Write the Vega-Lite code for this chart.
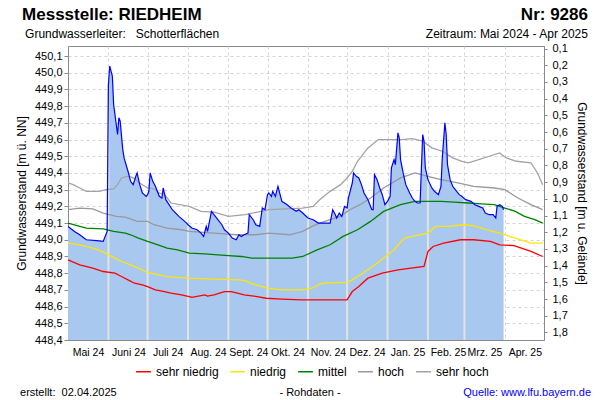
{
  "$schema": "https://vega.github.io/schema/vega-lite/v6.json",
  "width": 476,
  "height": 294,
  "autosize": {"type": "none"},
  "padding": {"left": 68, "top": 46, "right": 56, "bottom": 60},
  "background": "white",
  "config": {
    "font": "Liberation Sans",
    "view": {"stroke": "#8a8a8a", "strokeWidth": 1},
    "axis": {"labelFont": "Liberation Sans", "titleFont": "Liberation Sans", "labelColor": "#000000", "titleColor": "#000000", "domainColor": "#8a8a8a", "tickColor": "#8a8a8a", "labelOverlap": false},
    "legend": {"labelFont": "Liberation Sans"}
  },
  "datasets": {
    "obs": [
      {"date":"2024-05-01","value":449.08},{"date":"2024-05-06","value":449.05},{"date":"2024-05-10","value":449.03},{"date":"2024-05-15","value":449.0},{"date":"2024-05-23","value":448.995},{"date":"2024-05-28","value":448.99},{"date":"2024-05-30","value":449.03},{"date":"2024-05-31","value":449.05},
      {"date":"2024-06-01","value":449.93},{"date":"2024-06-02","value":450.04},{"date":"2024-06-04","value":449.98},{"date":"2024-06-05","value":449.81},{"date":"2024-06-06","value":449.75},{"date":"2024-06-08","value":449.63},{"date":"2024-06-09","value":449.73},{"date":"2024-06-10","value":449.71},{"date":"2024-06-12","value":449.54},{"date":"2024-06-13","value":449.49},{"date":"2024-06-16","value":449.41},{"date":"2024-06-18","value":449.35},{"date":"2024-06-20","value":449.33},{"date":"2024-06-22","value":449.38},{"date":"2024-06-23","value":449.4},{"date":"2024-06-25","value":449.33},{"date":"2024-06-27","value":449.28},{"date":"2024-06-30","value":449.26},
      {"date":"2024-07-01","value":449.27},{"date":"2024-07-02","value":449.29},{"date":"2024-07-03","value":449.4},{"date":"2024-07-05","value":449.35},{"date":"2024-07-07","value":449.32},{"date":"2024-07-10","value":449.26},{"date":"2024-07-12","value":449.25},{"date":"2024-07-13","value":449.31},{"date":"2024-07-15","value":449.24},{"date":"2024-07-20","value":449.18},{"date":"2024-07-25","value":449.14},{"date":"2024-07-31","value":449.1},
      {"date":"2024-08-01","value":449.09},{"date":"2024-08-04","value":449.07},{"date":"2024-08-08","value":449.06},{"date":"2024-08-11","value":449.04},{"date":"2024-08-13","value":449.02},{"date":"2024-08-15","value":449.08},{"date":"2024-08-16","value":449.05},{"date":"2024-08-19","value":449.17},{"date":"2024-08-23","value":449.13},{"date":"2024-08-27","value":449.09},{"date":"2024-08-29","value":449.06},
      {"date":"2024-09-01","value":449.04},{"date":"2024-09-02","value":449.03},{"date":"2024-09-04","value":449.01},{"date":"2024-09-07","value":449.0},{"date":"2024-09-09","value":449.03},{"date":"2024-09-11","value":449.02},{"date":"2024-09-13","value":449.03},{"date":"2024-09-16","value":449.04},{"date":"2024-09-17","value":449.15},{"date":"2024-09-20","value":449.12},{"date":"2024-09-22","value":449.09},{"date":"2024-09-25","value":449.08},{"date":"2024-09-27","value":449.19},{"date":"2024-09-29","value":449.18},
      {"date":"2024-10-01","value":449.27},{"date":"2024-10-02","value":449.28},{"date":"2024-10-04","value":449.26},{"date":"2024-10-05","value":449.29},{"date":"2024-10-07","value":449.26},{"date":"2024-10-09","value":449.32},{"date":"2024-10-10","value":449.29},{"date":"2024-10-12","value":449.23},{"date":"2024-10-16","value":449.21},{"date":"2024-10-19","value":449.19},{"date":"2024-10-23","value":449.17},{"date":"2024-10-25","value":449.18},{"date":"2024-10-28","value":449.16},
      {"date":"2024-11-01","value":449.13},{"date":"2024-11-05","value":449.12},{"date":"2024-11-09","value":449.1},{"date":"2024-11-13","value":449.1},{"date":"2024-11-18","value":449.1},{"date":"2024-11-20","value":449.18},{"date":"2024-11-22","value":449.15},{"date":"2024-11-23","value":449.13},{"date":"2024-11-25","value":449.16},{"date":"2024-11-27","value":449.14},{"date":"2024-11-29","value":449.2},
      {"date":"2024-12-01","value":449.19},{"date":"2024-12-02","value":449.25},{"date":"2024-12-04","value":449.31},{"date":"2024-12-05","value":449.34},{"date":"2024-12-06","value":449.4},{"date":"2024-12-08","value":449.38},{"date":"2024-12-10","value":449.37},{"date":"2024-12-12","value":449.33},{"date":"2024-12-14","value":449.28},{"date":"2024-12-17","value":449.24},{"date":"2024-12-20","value":449.18},{"date":"2024-12-21","value":449.18},{"date":"2024-12-22","value":449.39},{"date":"2024-12-24","value":449.36},{"date":"2024-12-26","value":449.31},{"date":"2024-12-28","value":449.27},{"date":"2024-12-30","value":449.21},
      {"date":"2025-01-01","value":449.23},{"date":"2025-01-03","value":449.26},{"date":"2025-01-04","value":449.43},{"date":"2025-01-06","value":449.48},{"date":"2025-01-07","value":449.45},{"date":"2025-01-09","value":449.64},{"date":"2025-01-10","value":449.61},{"date":"2025-01-11","value":449.48},{"date":"2025-01-13","value":449.4},{"date":"2025-01-15","value":449.33},{"date":"2025-01-18","value":449.28},{"date":"2025-01-20","value":449.25},{"date":"2025-01-22","value":449.23},{"date":"2025-01-24","value":449.22},{"date":"2025-01-26","value":449.22},{"date":"2025-01-27","value":449.43},{"date":"2025-01-28","value":449.63},{"date":"2025-01-29","value":449.59},{"date":"2025-01-30","value":449.43},
      {"date":"2025-02-01","value":449.36},{"date":"2025-02-04","value":449.31},{"date":"2025-02-06","value":449.29},{"date":"2025-02-09","value":449.27},{"date":"2025-02-11","value":449.32},{"date":"2025-02-12","value":449.49},{"date":"2025-02-14","value":449.7},{"date":"2025-02-15","value":449.63},{"date":"2025-02-16","value":449.45},{"date":"2025-02-18","value":449.36},{"date":"2025-02-20","value":449.32},{"date":"2025-02-22","value":449.3},{"date":"2025-02-25","value":449.27},{"date":"2025-02-27","value":449.26},
      {"date":"2025-03-01","value":449.245},{"date":"2025-03-02","value":449.24},{"date":"2025-03-06","value":449.23},{"date":"2025-03-09","value":449.21},{"date":"2025-03-12","value":449.2},{"date":"2025-03-15","value":449.19},{"date":"2025-03-17","value":449.16},{"date":"2025-03-20","value":449.15},{"date":"2025-03-23","value":449.15},{"date":"2025-03-25","value":449.13},{"date":"2025-03-26","value":449.2},{"date":"2025-03-28","value":449.21},{"date":"2025-03-30","value":449.2},{"date":"2025-03-31","value":449.18}
    ],
    "ref": [
      {"date":"2024-05-01","series":"sehr niedrig","value":448.88},{"date":"2024-05-10","series":"sehr niedrig","value":448.85},{"date":"2024-05-20","series":"sehr niedrig","value":448.83},{"date":"2024-05-28","series":"sehr niedrig","value":448.81},{"date":"2024-06-06","series":"sehr niedrig","value":448.8},{"date":"2024-06-11","series":"sehr niedrig","value":448.78},{"date":"2024-06-16","series":"sehr niedrig","value":448.76},{"date":"2024-06-21","series":"sehr niedrig","value":448.74},{"date":"2024-06-27","series":"sehr niedrig","value":448.73},{"date":"2024-07-01","series":"sehr niedrig","value":448.72},{"date":"2024-07-07","series":"sehr niedrig","value":448.7},{"date":"2024-07-14","series":"sehr niedrig","value":448.69},{"date":"2024-07-19","series":"sehr niedrig","value":448.68},{"date":"2024-07-27","series":"sehr niedrig","value":448.67},{"date":"2024-08-02","series":"sehr niedrig","value":448.66},{"date":"2024-08-04","series":"sehr niedrig","value":448.655},{"date":"2024-08-14","series":"sehr niedrig","value":448.67},{"date":"2024-08-16","series":"sehr niedrig","value":448.663},{"date":"2024-08-21","series":"sehr niedrig","value":448.67},{"date":"2024-08-29","series":"sehr niedrig","value":448.69},{"date":"2024-09-03","series":"sehr niedrig","value":448.69},{"date":"2024-09-08","series":"sehr niedrig","value":448.68},{"date":"2024-09-13","series":"sehr niedrig","value":448.67},{"date":"2024-09-23","series":"sehr niedrig","value":448.66},{"date":"2024-09-30","series":"sehr niedrig","value":448.65},{"date":"2024-10-12","series":"sehr niedrig","value":448.645},{"date":"2024-10-27","series":"sehr niedrig","value":448.64},{"date":"2024-11-12","series":"sehr niedrig","value":448.64},{"date":"2024-12-01","series":"sehr niedrig","value":448.64},{"date":"2024-12-05","series":"sehr niedrig","value":448.69},{"date":"2024-12-10","series":"sehr niedrig","value":448.72},{"date":"2024-12-17","series":"sehr niedrig","value":448.77},{"date":"2024-12-28","series":"sehr niedrig","value":448.8},{"date":"2025-01-09","series":"sehr niedrig","value":448.82},{"date":"2025-01-29","series":"sehr niedrig","value":448.84},{"date":"2025-02-01","series":"sehr niedrig","value":448.93},{"date":"2025-02-05","series":"sehr niedrig","value":448.96},{"date":"2025-02-13","series":"sehr niedrig","value":448.98},{"date":"2025-02-26","series":"sehr niedrig","value":449.0},{"date":"2025-03-08","series":"sehr niedrig","value":449.0},{"date":"2025-03-21","series":"sehr niedrig","value":448.99},{"date":"2025-03-28","series":"sehr niedrig","value":448.97},{"date":"2025-04-08","series":"sehr niedrig","value":448.965},{"date":"2025-04-21","series":"sehr niedrig","value":448.93},{"date":"2025-04-30","series":"sehr niedrig","value":448.9},
      {"date":"2024-05-01","series":"niedrig","value":448.98},{"date":"2024-05-10","series":"niedrig","value":448.97},{"date":"2024-05-20","series":"niedrig","value":448.95},{"date":"2024-05-27","series":"niedrig","value":448.93},{"date":"2024-06-01","series":"niedrig","value":448.91},{"date":"2024-06-06","series":"niedrig","value":448.89},{"date":"2024-06-11","series":"niedrig","value":448.87},{"date":"2024-06-18","series":"niedrig","value":448.85},{"date":"2024-06-24","series":"niedrig","value":448.83},{"date":"2024-06-29","series":"niedrig","value":448.81},{"date":"2024-07-03","series":"niedrig","value":448.8},{"date":"2024-07-10","series":"niedrig","value":448.79},{"date":"2024-07-16","series":"niedrig","value":448.78},{"date":"2024-07-24","series":"niedrig","value":448.775},{"date":"2024-08-01","series":"niedrig","value":448.77},{"date":"2024-08-21","series":"niedrig","value":448.765},{"date":"2024-09-09","series":"niedrig","value":448.76},{"date":"2024-09-14","series":"niedrig","value":448.755},{"date":"2024-09-18","series":"niedrig","value":448.74},{"date":"2024-09-22","series":"niedrig","value":448.73},{"date":"2024-09-27","series":"niedrig","value":448.72},{"date":"2024-10-01","series":"niedrig","value":448.71},{"date":"2024-10-12","series":"niedrig","value":448.7},{"date":"2024-10-28","series":"niedrig","value":448.7},{"date":"2024-11-04","series":"niedrig","value":448.71},{"date":"2024-11-12","series":"niedrig","value":448.74},{"date":"2024-12-01","series":"niedrig","value":448.745},{"date":"2024-12-05","series":"niedrig","value":448.76},{"date":"2024-12-13","series":"niedrig","value":448.8},{"date":"2024-12-24","series":"niedrig","value":448.86},{"date":"2025-01-06","series":"niedrig","value":448.94},{"date":"2025-01-14","series":"niedrig","value":449.01},{"date":"2025-01-20","series":"niedrig","value":449.02},{"date":"2025-02-01","series":"niedrig","value":449.04},{"date":"2025-02-07","series":"niedrig","value":449.08},{"date":"2025-02-17","series":"niedrig","value":449.08},{"date":"2025-02-28","series":"niedrig","value":449.09},{"date":"2025-03-08","series":"niedrig","value":449.085},{"date":"2025-03-18","series":"niedrig","value":449.06},{"date":"2025-03-28","series":"niedrig","value":449.04},{"date":"2025-04-05","series":"niedrig","value":449.02},{"date":"2025-04-13","series":"niedrig","value":449.0},{"date":"2025-04-21","series":"niedrig","value":448.98},{"date":"2025-04-30","series":"niedrig","value":448.98},
      {"date":"2024-05-01","series":"mittel","value":449.1},{"date":"2024-05-15","series":"mittel","value":449.07},{"date":"2024-05-28","series":"mittel","value":449.065},{"date":"2024-06-05","series":"mittel","value":449.05},{"date":"2024-06-14","series":"mittel","value":449.04},{"date":"2024-06-18","series":"mittel","value":449.03},{"date":"2024-06-24","series":"mittel","value":449.01},{"date":"2024-07-01","series":"mittel","value":448.99},{"date":"2024-07-09","series":"mittel","value":448.97},{"date":"2024-07-16","series":"mittel","value":448.95},{"date":"2024-07-24","series":"mittel","value":448.94},{"date":"2024-08-02","series":"mittel","value":448.92},{"date":"2024-08-14","series":"mittel","value":448.915},{"date":"2024-08-24","series":"mittel","value":448.91},{"date":"2024-09-01","series":"mittel","value":448.905},{"date":"2024-09-11","series":"mittel","value":448.9},{"date":"2024-09-19","series":"mittel","value":448.89},{"date":"2024-10-20","series":"mittel","value":448.89},{"date":"2024-10-28","series":"mittel","value":448.9},{"date":"2024-11-08","series":"mittel","value":448.94},{"date":"2024-11-18","series":"mittel","value":448.97},{"date":"2024-11-28","series":"mittel","value":449.02},{"date":"2024-12-09","series":"mittel","value":449.06},{"date":"2024-12-19","series":"mittel","value":449.11},{"date":"2024-12-29","series":"mittel","value":449.17},{"date":"2025-01-11","series":"mittel","value":449.21},{"date":"2025-01-22","series":"mittel","value":449.23},{"date":"2025-02-11","series":"mittel","value":449.23},{"date":"2025-02-21","series":"mittel","value":449.225},{"date":"2025-03-04","series":"mittel","value":449.22},{"date":"2025-03-14","series":"mittel","value":449.215},{"date":"2025-03-24","series":"mittel","value":449.21},{"date":"2025-04-01","series":"mittel","value":449.19},{"date":"2025-04-09","series":"mittel","value":449.17},{"date":"2025-04-16","series":"mittel","value":449.14},{"date":"2025-04-24","series":"mittel","value":449.12},{"date":"2025-04-30","series":"mittel","value":449.1},
      {"date":"2024-05-01","series":"hoch","value":449.18},{"date":"2024-05-10","series":"hoch","value":449.19},{"date":"2024-05-20","series":"hoch","value":449.185},{"date":"2024-05-28","series":"hoch","value":449.16},{"date":"2024-06-07","series":"hoch","value":449.14},{"date":"2024-06-14","series":"hoch","value":449.135},{"date":"2024-06-23","series":"hoch","value":449.11},{"date":"2024-07-01","series":"hoch","value":449.11},{"date":"2024-07-06","series":"hoch","value":449.09},{"date":"2024-07-16","series":"hoch","value":449.07},{"date":"2024-07-27","series":"hoch","value":449.06},{"date":"2024-08-02","series":"hoch","value":449.05},{"date":"2024-08-21","series":"hoch","value":449.04},{"date":"2024-09-07","series":"hoch","value":449.03},{"date":"2024-09-22","series":"hoch","value":449.03},{"date":"2024-10-02","series":"hoch","value":449.04},{"date":"2024-10-18","series":"hoch","value":449.03},{"date":"2024-10-28","series":"hoch","value":449.05},{"date":"2024-11-04","series":"hoch","value":449.08},{"date":"2024-11-10","series":"hoch","value":449.1},{"date":"2024-11-18","series":"hoch","value":449.12},{"date":"2024-11-26","series":"hoch","value":449.14},{"date":"2024-12-03","series":"hoch","value":449.18},{"date":"2024-12-11","series":"hoch","value":449.21},{"date":"2024-12-19","series":"hoch","value":449.25},{"date":"2024-12-29","series":"hoch","value":449.31},{"date":"2025-01-11","series":"hoch","value":449.37},{"date":"2025-01-22","series":"hoch","value":449.4},{"date":"2025-02-01","series":"hoch","value":449.38},{"date":"2025-02-11","series":"hoch","value":449.36},{"date":"2025-02-24","series":"hoch","value":449.34},{"date":"2025-03-08","series":"hoch","value":449.32},{"date":"2025-03-24","series":"hoch","value":449.31},{"date":"2025-04-01","series":"hoch","value":449.3},{"date":"2025-04-11","series":"hoch","value":449.25},{"date":"2025-04-21","series":"hoch","value":449.21},{"date":"2025-04-30","series":"hoch","value":449.18},
      {"date":"2024-05-01","series":"sehr hoch","value":449.34},{"date":"2024-05-05","series":"sehr hoch","value":449.33},{"date":"2024-05-10","series":"sehr hoch","value":449.31},{"date":"2024-05-15","series":"sehr hoch","value":449.29},{"date":"2024-05-25","series":"sehr hoch","value":449.29},{"date":"2024-05-30","series":"sehr hoch","value":449.3},{"date":"2024-06-05","series":"sehr hoch","value":449.305},{"date":"2024-06-08","series":"sehr hoch","value":449.33},{"date":"2024-06-11","series":"sehr hoch","value":449.37},{"date":"2024-06-15","series":"sehr hoch","value":449.38},{"date":"2024-06-19","series":"sehr hoch","value":449.375},{"date":"2024-06-22","series":"sehr hoch","value":449.36},{"date":"2024-06-25","series":"sehr hoch","value":449.34},{"date":"2024-07-01","series":"sehr hoch","value":449.31},{"date":"2024-07-06","series":"sehr hoch","value":449.305},{"date":"2024-07-10","series":"sehr hoch","value":449.28},{"date":"2024-07-14","series":"sehr hoch","value":449.27},{"date":"2024-07-19","series":"sehr hoch","value":449.22},{"date":"2024-08-02","series":"sehr hoch","value":449.2},{"date":"2024-08-11","series":"sehr hoch","value":449.17},{"date":"2024-08-21","series":"sehr hoch","value":449.165},{"date":"2024-09-01","series":"sehr hoch","value":449.14},{"date":"2024-09-14","series":"sehr hoch","value":449.15},{"date":"2024-10-02","series":"sehr hoch","value":449.18},{"date":"2024-10-15","series":"sehr hoch","value":449.185},{"date":"2024-10-28","series":"sehr hoch","value":449.19},{"date":"2024-11-05","series":"sehr hoch","value":449.2},{"date":"2024-11-10","series":"sehr hoch","value":449.24},{"date":"2024-11-18","series":"sehr hoch","value":449.29},{"date":"2024-11-26","series":"sehr hoch","value":449.33},{"date":"2024-12-01","series":"sehr hoch","value":449.37},{"date":"2024-12-05","series":"sehr hoch","value":449.41},{"date":"2024-12-09","series":"sehr hoch","value":449.47},{"date":"2024-12-17","series":"sehr hoch","value":449.55},{"date":"2024-12-25","series":"sehr hoch","value":449.6},{"date":"2025-01-12","series":"sehr hoch","value":449.6},{"date":"2025-01-20","series":"sehr hoch","value":449.605},{"date":"2025-01-28","series":"sehr hoch","value":449.59},{"date":"2025-02-04","series":"sehr hoch","value":449.55},{"date":"2025-02-12","series":"sehr hoch","value":449.53},{"date":"2025-02-20","series":"sehr hoch","value":449.49},{"date":"2025-02-27","series":"sehr hoch","value":449.47},{"date":"2025-03-04","series":"sehr hoch","value":449.46},{"date":"2025-03-12","series":"sehr hoch","value":449.48},{"date":"2025-03-20","series":"sehr hoch","value":449.5},{"date":"2025-03-28","series":"sehr hoch","value":449.52},{"date":"2025-04-02","series":"sehr hoch","value":449.49},{"date":"2025-04-10","series":"sehr hoch","value":449.47},{"date":"2025-04-21","series":"sehr hoch","value":449.46},{"date":"2025-04-26","series":"sehr hoch","value":449.4},{"date":"2025-04-30","series":"sehr hoch","value":449.33}
    ]
  },
  "layer": [
    {
      "data": {"values": [{"level": 449.0}]},
      "mark": {"type": "rule", "opacity": 0},
      "encoding": {
        "y": {
          "field": "level", "type": "quantitative",
          "scale": {"domain": [448.4, 450.16], "nice": false, "zero": false},
          "axis": {
            "orient": "left",
            "values": [448.4, 448.5, 448.6, 448.7, 448.8, 448.9, 449.0, 449.1, 449.2, 449.3, 449.4, 449.5, 449.6, 449.7, 449.8, 449.9, 450.0, 450.1],
            "labelExpr": "replace(format(datum.value, '.1f'), '.', ',')",
            "labelFontSize": 11, "labelPadding": 2, "tickSize": 4, "labelOverlap": false,
            "grid": true, "gridDash": [3, 3], "gridColor": "#d4d4d4",
            "title": "Grundwasserstand [m ü. NN]", "titleFontSize": 12, "titleFontWeight": "normal", "titlePadding": 6
          }
        }
      }
    },
    {
      "layer": [
        {
          "data": {"name": "obs"},
          "mark": {"type": "area", "color": "#A8C8F0", "opacity": 1},
          "encoding": {
            "x": {
              "field": "date", "type": "temporal",
              "scale": {"type": "utc", "domain": [{"year": 2024, "month": 5, "date": 1, "utc": true}, {"year": 2025, "month": 5, "date": 1, "utc": true}]},
              "axis": {
                "title": null,
                "values": [
                  {"year": 2024, "month": 5, "date": 1, "utc": true}, {"year": 2024, "month": 6, "date": 1, "utc": true}, {"year": 2024, "month": 7, "date": 1, "utc": true}, {"year": 2024, "month": 8, "date": 1, "utc": true}, {"year": 2024, "month": 9, "date": 1, "utc": true}, {"year": 2024, "month": 10, "date": 1, "utc": true}, {"year": 2024, "month": 11, "date": 1, "utc": true}, {"year": 2024, "month": 12, "date": 1, "utc": true}, {"year": 2025, "month": 1, "date": 1, "utc": true}, {"year": 2025, "month": 2, "date": 1, "utc": true}, {"year": 2025, "month": 3, "date": 1, "utc": true}, {"year": 2025, "month": 4, "date": 1, "utc": true}
                ],
                "labelExpr": "['Jan.','Feb.','Mrz.','Apr.','Mai','Juni','Juli','Aug.','Sept.','Okt.','Nov.','Dez.'][utcmonth(datum.value)] + ' ' + utcFormat(datum.value, '%y')",
                "labelOffset": 20, "labelAlign": "center", "labelFontSize": 10.5, "labelPadding": 7,
                "labelOverlap": false, "labelFlush": false, "labelBound": false,
                "ticks": false, "grid": true, "gridDash": [3, 3], "gridColor": "#d4d4d4", "gridWidth": 1
              }
            },
            "y": {"field": "value", "type": "quantitative", "scale": {"domain": [448.4, 450.16], "nice": false, "zero": false}, "axis": null},
            "y2": {"datum": 448.4}
          }
        },
        {
          "data": {"name": "obs"},
          "transform": [{"filter": "utcdate(toDate(datum.date)) == 1 && utcmonth(toDate(datum.date)) != 4"}],
          "mark": {"type": "rule", "color": "#e2e2e2", "strokeWidth": 2},
          "encoding": {
            "x": {"field": "date", "type": "temporal"},
            "y": {"field": "value", "type": "quantitative", "axis": null},
            "y2": {"datum": 448.4}
          }
        },
        {
          "data": {"name": "ref"},
          "mark": {"type": "line", "strokeWidth": 1.3},
          "encoding": {
            "x": {"field": "date", "type": "temporal"},
            "y": {"field": "value", "type": "quantitative", "axis": null},
            "color": {
              "field": "series", "type": "nominal",
              "scale": {"domain": ["sehr niedrig", "niedrig", "mittel", "hoch", "sehr hoch"], "range": ["#ff0000", "#ffe600", "#008000", "#999999", "#a3a3a3"]},
              "legend": {"orient": "none", "legendX": 67, "legendY": 317, "direction": "horizontal", "title": null, "symbolType": "stroke", "symbolStrokeWidth": 1.5, "symbolSize": 220, "labelFontSize": 12, "columnPadding": 8, "labelLimit": 200}
            }
          }
        },
        {
          "data": {"name": "obs"},
          "mark": {"type": "line", "color": "#0000ff", "strokeWidth": 1.2},
          "encoding": {
            "x": {"field": "date", "type": "temporal"},
            "y": {"field": "value", "type": "quantitative", "axis": null}
          }
        },
        {
          "data": {"values": [{"label": "Messstelle: RIEDHEIM"}]},
          "mark": {"type": "text", "align": "left", "baseline": "alphabetic", "fontSize": 17, "fontWeight": "bold", "color": "#000000"},
          "encoding": {
            "x": {"datum": {"year": 2024, "month": 3, "date": 26, "hours": 19, "utc": true}, "type": "temporal"},
            "y": {"datum": 450.316, "type": "quantitative", "axis": null},
            "text": {"field": "label"}
          }
        },
        {
          "data": {"values": [{"label": "Grundwasserleiter:\u00a0\u00a0 Schotterflächen"}]},
          "mark": {"type": "text", "align": "left", "baseline": "alphabetic", "fontSize": 12, "color": "#000000"},
          "encoding": {
            "x": {"datum": {"year": 2024, "month": 3, "date": 29, "hours": 2, "utc": true}, "type": "temporal"},
            "y": {"datum": 450.208, "type": "quantitative", "axis": null},
            "text": {"field": "label"}
          }
        },
        {
          "data": {"values": [{"label": "Nr: 9286"}]},
          "mark": {"type": "text", "align": "right", "baseline": "alphabetic", "fontSize": 17, "fontWeight": "bold", "color": "#000000"},
          "encoding": {
            "x": {"datum": {"year": 2025, "month": 6, "date": 3, "hours": 17, "utc": true}, "type": "temporal"},
            "y": {"datum": 450.316, "type": "quantitative", "axis": null},
            "text": {"field": "label"}
          }
        },
        {
          "data": {"values": [{"label": "Zeitraum: Mai 2024 - Apr 2025"}]},
          "mark": {"type": "text", "align": "right", "baseline": "alphabetic", "fontSize": 12, "color": "#000000"},
          "encoding": {
            "x": {"datum": {"year": 2025, "month": 6, "date": 3, "hours": 17, "utc": true}, "type": "temporal"},
            "y": {"datum": 450.208, "type": "quantitative", "axis": null},
            "text": {"field": "label"}
          }
        },
        {
          "data": {"values": [{"label": "erstellt:\u00a0 02.04.2025"}]},
          "mark": {"type": "text", "align": "left", "baseline": "alphabetic", "fontSize": 11, "color": "#000000"},
          "encoding": {
            "x": {"datum": {"year": 2024, "month": 3, "date": 25, "hours": 5, "utc": true}, "type": "temporal"},
            "y": {"datum": 448.065, "type": "quantitative", "axis": null},
            "text": {"field": "label"}
          }
        },
        {
          "data": {"values": [{"label": "- Rohdaten -"}]},
          "mark": {"type": "text", "align": "center", "baseline": "alphabetic", "fontSize": 11, "color": "#000000"},
          "encoding": {
            "x": {"datum": {"year": 2024, "month": 11, "date": 2, "hours": 14, "utc": true}, "type": "temporal"},
            "y": {"datum": 448.065, "type": "quantitative", "axis": null},
            "text": {"field": "label"}
          }
        },
        {
          "data": {"values": [{"label": "Quelle: www.lfu.bayern.de"}]},
          "mark": {"type": "text", "align": "right", "baseline": "alphabetic", "fontSize": 11, "color": "#0000ff"},
          "encoding": {
            "x": {"datum": {"year": 2025, "month": 6, "date": 6, "hours": 1, "utc": true}, "type": "temporal"},
            "y": {"datum": 448.065, "type": "quantitative", "axis": null},
            "text": {"field": "label"}
          }
        }
      ]
    },
    {
      "data": {"values": [{"depth": 1.0}]},
      "mark": {"type": "rule", "opacity": 0},
      "encoding": {
        "y": {
          "field": "depth", "type": "quantitative",
          "scale": {"domain": [0.085, 1.845], "reverse": true, "nice": false, "zero": false},
          "axis": {
            "orient": "right",
            "values": [0.1, 0.2, 0.3, 0.4, 0.5, 0.6, 0.7, 0.8, 0.9, 1.0, 1.1, 1.2, 1.3, 1.4, 1.5, 1.6, 1.7, 1.8],
            "labelExpr": "replace(format(datum.value, '.1f'), '.', ',')",
            "labelFontSize": 11, "labelPadding": 5, "tickSize": 3, "grid": false, "labelOverlap": false,
            "title": "Grundwasserstand [m u. Gelände]", "titleFontSize": 12, "titleFontWeight": "normal", "titlePadding": 7
          }
        }
      }
    }
  ],
  "resolve": {"scale": {"y": "independent"}, "axis": {"y": "independent"}}
}
